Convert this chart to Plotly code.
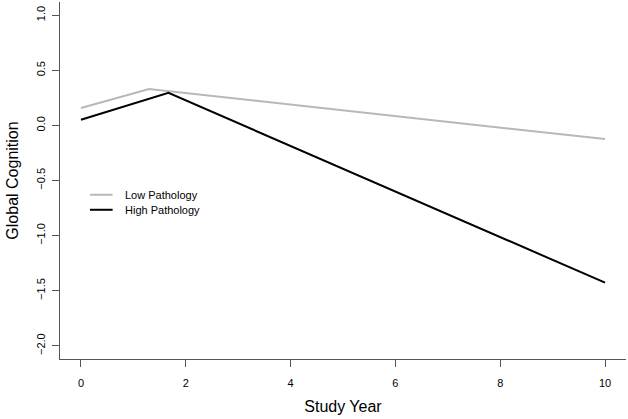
import plotly.graph_objects as go

years_low = [0, 1.3, 10]
low_pathology = [0.158, 0.33, -0.124]
years_high = [0, 1.67, 10]
high_pathology = [0.052, 0.295, -1.427]

x_ticks = [0, 2, 4, 6, 8, 10]
y_ticks = [-2.0, -1.5, -1.0, -0.5, 0.0, 0.5, 1.0]
y_tick_text = ["\u22122.0", "\u22121.5", "\u22121.0", "\u22120.5", "0.0", "0.5", "1.0"]

series_names = ["Low Pathology", "High Pathology"]
series_colors = ["#b8b8b8", "#000000"]

font_family = "Liberation Sans, Arial, Helvetica, sans-serif"
axis_color = "#555555"

fig = go.Figure()
fig.add_trace(go.Scatter(x=years_low, y=low_pathology, mode="lines",
                         name=series_names[0], line=dict(color=series_colors[0], width=2)))
fig.add_trace(go.Scatter(x=years_high, y=high_pathology, mode="lines",
                         name=series_names[1], line=dict(color=series_colors[1], width=2)))

# custom legend (R-style, compact)
legend_rows_y = [0.460, 0.418]
for name, color, ly in zip(series_names, series_colors, legend_rows_y):
    fig.add_shape(type="line", xref="paper", yref="paper",
                  x0=0.053, x1=0.093, y0=ly, y1=ly,
                  line=dict(color=color, width=2))
    fig.add_annotation(xref="paper", yref="paper", x=0.111, y=ly,
                       text=name, showarrow=False, xanchor="left", yanchor="middle",
                       font=dict(size=11, family=font_family, color="#000000"))

fig.update_layout(
    width=628, height=419,
    margin=dict(l=60, r=2, t=2, b=60),
    paper_bgcolor="white", plot_bgcolor="white",
    font=dict(family=font_family, color="#000000"),
    showlegend=False,
)
fig.update_xaxes(
    range=[-0.4, 10.4], tickvals=x_ticks, ticktext=[str(v) for v in x_ticks],
    automargin=False,
    showgrid=False, zeroline=False, showline=True, linecolor=axis_color, linewidth=1,
    ticks="outside", ticklen=7, tickcolor=axis_color, tickwidth=1,
    tickfont=dict(size=11, family=font_family), ticklabelstandoff=7,
    title=dict(text="Study Year", font=dict(size=16, family=font_family), standoff=12),
)
fig.update_yaxes(
    range=[-2.12, 1.12], tickvals=y_ticks, ticktext=y_tick_text, tickangle=-90,
    automargin=False,
    showgrid=False, zeroline=False, showline=True, linecolor=axis_color, linewidth=1,
    ticks="outside", ticklen=7, tickcolor=axis_color, tickwidth=1,
    tickfont=dict(size=11, family=font_family), ticklabelstandoff=3,
    title=dict(text="Global Cognition", font=dict(size=16, family=font_family), standoff=11),
)

fig.write_html("out.html", config={"displayModeBar": False},
               post_script="document.body.style.margin='0';")
